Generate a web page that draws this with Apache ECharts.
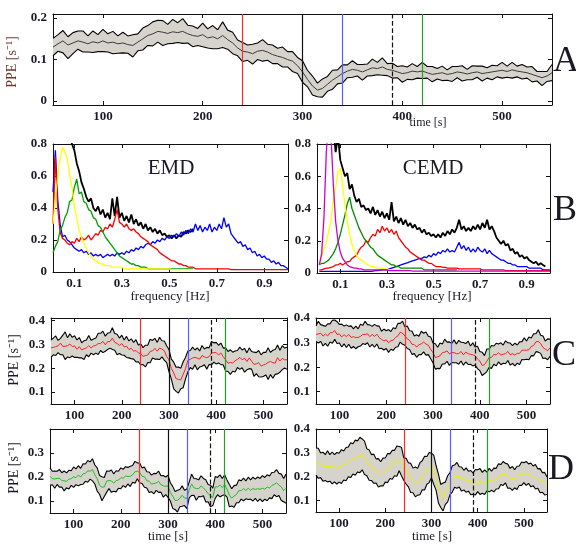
<!DOCTYPE html>
<html>
<head>
<meta charset="utf-8">
<script src="https://cdn.jsdelivr.net/npm/echarts@6/dist/echarts.min.js"></script>
<style>html,body{margin:0;background:#fff}#chart{width:576px;height:548px}</style>
</head>
<body>
<div id="chart"></div>
<script>
const time = [
  50,55,60,65,70,75,80,85,90,95,
  100,105,110,115,120,125,130,135,140,145,
  150,155,160,165,170,175,180,185,190,195,
  200,205,210,215,220,225,230,235,240,245,
  250,255,260,265,270,275,280,285,290,295,
  300,305,310,315,320,325,330,335,340,345,
  350,355,360,365,370,375,380,385,390,395,
  400,405,410,415,420,425,430,435,440,445,
  450,455,460,465,470,475,480,485,490,495,
  500,505,510,515,520,525,530,535,540,545,
  550];

const freq = [
  0.01,0.02,0.03,0.04,0.05,0.06,0.07,0.08,0.09,0.10,
  0.11,0.12,0.13,0.14,0.15,0.16,0.17,0.18,0.19,0.20,
  0.21,0.22,0.23,0.24,0.25,0.26,0.27,0.28,0.29,0.30,
  0.31,0.32,0.33,0.34,0.35,0.36,0.37,0.38,0.39,0.40,
  0.41,0.42,0.43,0.44,0.45,0.46,0.47,0.48,0.49,0.50,
  0.51,0.52,0.53,0.54,0.55,0.56,0.57,0.58,0.59,0.60,
  0.61,0.62,0.63,0.64,0.65,0.66,0.67,0.68,0.69,0.70,
  0.71,0.72,0.73,0.74,0.75,0.76,0.77,0.78,0.79,0.80,
  0.81,0.82,0.83,0.84,0.85,0.86,0.87,0.88,0.89,0.90,
  0.91,0.92,0.93,0.94,0.95,0.96,0.97,0.98,0.99,1.00];

// event markers (s)
const events = [240, 300, 340, 390, 420];
const eventColors = ['#ff2a2a', '#111111', '#5a5aff', '#111111', '#22a022'];
const eventTypes = ['solid', 'solid', 'solid', 'dashed', 'solid'];

const timeTicks = [100, 200, 300, 400, 500];
const freqTicks = [0.1, 0.3, 0.5, 0.7, 0.9];

// panel A
const aUpper = [
  .151,.160,.170,.155,.165,.169,.169,.157,.169,.160,
  .173,.162,.168,.157,.166,.157,.160,.162,.176,.182,
  .191,.195,.194,.185,.197,.189,.199,.183,.181,.175,
  .188,.174,.182,.172,.191,.171,.166,.147,.141,.135,
  .137,.140,.148,.137,.135,.127,.130,.119,.119,.105,
  .097,.074,.060,.043,.053,.059,.074,.075,.087,.087,
  .097,.088,.088,.089,.101,.093,.104,.090,.091,.083,
  .085,.082,.090,.083,.093,.083,.083,.078,.084,.075,
  .083,.083,.085,.076,.085,.084,.084,.080,.086,.085,
  .093,.084,.093,.084,.088,.082,.083,.071,.071,.071,
  .088];
const aMean = [
  .130,.138,.145,.135,.140,.145,.142,.138,.143,.140,
  .145,.140,.142,.138,.140,.136,.134,.142,.150,.158,
  .162,.168,.166,.163,.167,.165,.168,.162,.158,.156,
  .160,.152,.155,.150,.158,.148,.140,.128,.120,.118,
  .114,.120,.122,.118,.112,.108,.105,.100,.096,.085,
  .070,.052,.036,.026,.030,.040,.050,.058,.066,.072,
  .076,.074,.070,.075,.080,.078,.082,.076,.074,.070,
  .066,.068,.072,.070,.072,.068,.064,.066,.068,.064,
  .066,.070,.068,.065,.068,.070,.066,.068,.070,.072,
  .074,.071,.075,.072,.070,.068,.064,.060,.056,.060,
  .068];
const aLower = [
  .109,.120,.116,.102,.114,.125,.118,.118,.117,.119,
  .119,.118,.114,.115,.116,.115,.106,.121,.123,.134,
  .133,.142,.134,.138,.139,.141,.139,.140,.131,.134,
  .131,.128,.126,.126,.129,.125,.114,.109,.095,.098,
  .089,.100,.096,.098,.090,.090,.082,.082,.071,.066,
  .045,.034,.014,.010,.009,.023,.028,.041,.043,.056,
  .057,.060,.050,.060,.061,.063,.062,.061,.055,.056,
  .045,.052,.051,.055,.054,.055,.046,.053,.049,.050,
  .047,.056,.048,.051,.051,.057,.048,.055,.051,.058,
  .055,.057,.055,.058,.053,.055,.046,.048,.037,.047,
  .049];

// panel B, EMD
const emdBlack = [
  null,null,null,null,null,0.85,0.92,0.84,0.80,0.76,
  0.68,0.63,0.56,0.52,0.47,0.44,0.46,0.40,0.38,0.41,
  0.36,0.39,0.34,0.37,0.33,0.46,0.35,0.47,0.34,0.37,
  0.32,0.35,0.31,0.36,0.30,0.33,0.29,0.31,0.27,0.30,
  0.26,0.28,0.25,0.27,0.24,0.26,0.23,0.24,0.22,0.23,
  0.21,0.23,0.21,0.23,0.22,0.25,0.24,0.26,0.25,0.27,
  null,null,null,null,null,null,null,null,null,null,
  null,null,null,null,null,null,null,null,null,null,
  null,null,null,null,null,null,null,null,null,null,
  null,null,null,null,null,null,null,null,null,null];
const emdBlue = [
  0.50,0.76,0.45,0.30,0.22,0.23,0.20,0.19,0.17,0.15,
  0.14,0.13,0.14,0.12,0.13,0.11,0.12,0.10,0.11,0.10,
  0.11,0.09,0.10,0.11,0.10,0.11,0.10,0.12,0.11,0.12,
  0.11,0.13,0.12,0.14,0.13,0.15,0.14,0.16,0.15,0.17,
  0.18,0.17,0.19,0.18,0.20,0.19,0.21,0.20,0.22,0.21,
  0.23,0.22,0.24,0.22,0.25,0.23,0.26,0.24,0.27,0.25,
  0.30,0.26,0.29,0.25,0.28,0.26,0.30,0.25,0.28,0.26,
  0.30,0.27,0.34,0.28,0.30,0.24,0.22,0.20,0.18,0.19,
  0.16,0.17,0.14,0.15,0.12,0.13,0.10,0.11,0.09,0.10,
  0.08,0.08,0.06,0.07,0.05,0.06,0.04,0.04,0.03,0.02];
const emdRed = [
  0.30,0.72,0.40,0.25,0.21,0.20,0.18,0.17,0.19,0.18,
  0.21,0.19,0.22,0.20,0.21,0.23,0.20,0.22,0.24,0.23,
  0.26,0.25,0.28,0.27,0.30,0.28,0.33,0.39,0.31,0.30,
  0.28,0.30,0.27,0.26,0.27,0.25,0.24,0.22,0.21,0.20,
  0.19,0.17,0.16,0.15,0.14,0.12,0.11,0.10,0.09,0.08,
  0.07,0.07,0.06,0.05,0.05,0.04,0.04,0.03,0.03,0.03,
  0.02,0.02,0.02,0.02,0.02,0.02,0.02,0.02,0.02,0.02,
  0.02,0.02,0.02,0.02,0.02,0.015,0.015,0.015,0.015,0.015,
  0.015,0.015,0.015,0.015,0.015,0.015,0.015,0.015,0.015,0.015,
  0.015,0.015,0.015,0.015,0.015,0.015,0.015,0.015,0.015,0.015];
const emdGreen = [
  0.12,0.16,0.19,0.26,0.29,0.34,0.37,0.44,0.45,0.53,
  0.58,0.49,0.50,0.44,0.43,0.39,0.38,0.34,0.33,0.29,
  0.28,0.25,0.22,0.20,0.18,0.16,0.14,0.12,0.10,0.09,
  0.08,0.07,0.06,0.05,0.05,0.04,0.04,0.03,0.03,0.03,
  0.02,0.02,0.02,0.02,0.02,0.02,0.02,0.02,0.02,0.02,
  0.02,0.02,0.02,0.02,0.02,0.02,0.02,0.02,0.02,0.02,
  null,null,null,null,null,null,null,null,null,null,
  null,null,null,null,null,null,null,null,null,null,
  null,null,null,null,null,null,null,null,null,null,
  null,null,null,null,null,null,null,null,null,null];
const emdYellow = [
  0.30,0.45,0.60,0.71,0.78,0.75,0.71,0.61,0.53,0.41,
  0.34,0.26,0.22,0.18,0.15,0.12,0.10,0.08,0.07,0.06,
  0.05,0.05,0.04,0.04,0.04,0.03,0.03,0.03,0.03,0.03,
  0.02,0.02,0.02,0.02,0.02,0.02,0.02,0.02,0.02,0.02,
  0.02,0.02,0.02,0.02,0.02,0.02,0.02,0.02,0.02,0.02,
  0.015,0.015,0.015,0.015,0.015,0.015,0.015,0.015,0.015,0.015,
  null,null,null,null,null,null,null,null,null,null,
  null,null,null,null,null,null,null,null,null,null,
  null,null,null,null,null,null,null,null,null,null,
  null,null,null,null,null,null,null,null,null,null];

// panel B, CEMD
const cemdBlack = [
  null,null,null,null,null,null,0.90,0.75,0.85,0.70,
  0.65,0.60,0.62,0.52,0.55,0.48,0.44,0.46,0.41,0.42,
  0.39,0.40,0.37,0.41,0.36,0.39,0.35,0.38,0.34,0.37,
  0.33,0.44,0.32,0.35,0.31,0.34,0.30,0.33,0.29,0.31,
  0.28,0.30,0.27,0.28,0.25,0.27,0.24,0.25,0.23,0.24,
  0.22,0.24,0.22,0.25,0.23,0.26,0.24,0.27,0.25,0.28,
  0.33,0.27,0.29,0.26,0.28,0.26,0.29,0.27,0.30,0.27,
  0.31,0.28,0.33,0.27,0.29,0.26,0.22,0.20,0.18,0.20,
  0.17,0.18,0.14,0.15,0.12,0.13,0.10,0.11,0.09,0.10,
  0.08,0.07,0.06,0.07,0.05,0.06,0.05,0.04,null,null];
const cemdBlue = [
  0.01,0.01,0.01,0.01,0.01,0.01,0.01,0.01,0.01,0.01,
  0.01,0.01,0.01,0.01,0.01,0.01,0.01,0.01,0.01,0.01,
  0.01,0.01,0.01,0.012,0.015,0.015,0.018,0.02,0.02,0.02,
  0.025,0.03,0.035,0.04,0.045,0.05,0.055,0.06,0.065,0.07,
  0.075,0.08,0.085,0.09,0.09,0.10,0.095,0.11,0.10,0.12,
  0.11,0.13,0.12,0.14,0.13,0.15,0.13,0.14,0.13,0.16,
  0.19,0.15,0.17,0.14,0.16,0.13,0.15,0.13,0.16,0.14,
  0.13,0.15,0.12,0.14,0.12,0.11,0.10,0.09,0.08,0.08,
  0.07,0.06,0.06,0.05,0.05,0.04,0.04,0.04,0.04,0.04,
  0.03,0.03,0.03,0.03,0.03,0.03,0.02,0.02,0.02,0.02];
const cemdRed = [
  0.02,0.02,0.025,0.03,0.03,0.035,0.04,0.05,0.05,0.06,
  0.05,0.06,0.07,0.07,0.09,0.10,0.11,0.14,0.16,0.17,
  0.20,0.19,0.22,0.24,0.23,0.27,0.25,0.29,0.26,0.28,
  0.25,0.27,0.24,0.26,0.22,0.20,0.18,0.16,0.15,0.13,
  0.12,0.11,0.10,0.09,0.08,0.08,0.07,0.06,0.06,0.05,
  0.04,0.04,0.04,0.035,0.035,0.03,0.03,0.03,0.03,0.03,
  0.025,0.025,0.025,0.025,0.025,0.025,0.025,0.025,0.025,0.025,
  0.02,0.02,0.02,0.02,0.02,0.02,0.02,0.02,0.02,0.02,
  0.015,0.015,0.015,0.015,0.015,0.015,0.015,0.015,0.015,0.015,
  0.015,0.015,0.015,0.015,0.015,0.015,0.015,0.015,0.015,0.015];
const cemdGreen = [
  0.05,0.06,0.06,0.07,0.08,0.10,0.12,0.15,0.19,0.24,
  0.30,0.36,0.43,0.47,0.40,0.36,0.32,0.28,0.25,0.22,
  0.20,0.18,0.16,0.15,0.13,0.11,0.10,0.09,0.08,0.07,
  0.06,0.05,0.05,0.04,0.04,0.03,0.03,0.03,0.03,0.03,
  0.03,0.03,0.03,0.03,0.03,0.02,0.02,0.02,0.02,0.02,
  0.02,0.02,0.02,0.02,0.02,0.02,0.02,0.02,0.02,0.02,
  null,null,null,null,null,null,null,null,null,null,
  null,null,null,null,null,null,null,null,null,null,
  null,null,null,null,null,null,null,null,null,null,
  null,null,null,null,null,null,null,null,null,null];
const cemdYellow = [
  0.05,0.10,0.15,0.19,0.26,0.32,0.46,0.53,0.63,0.65,
  0.55,0.42,0.32,0.24,0.18,0.14,0.11,0.09,0.08,0.07,
  0.06,0.05,0.04,0.04,0.035,0.03,0.03,0.03,0.025,0.025,
  0.02,0.02,0.02,0.02,0.02,0.02,0.02,0.02,0.02,0.02,
  null,null,null,null,null,null,null,null,null,null,
  null,null,null,null,null,null,null,null,null,null,
  null,null,null,null,null,null,null,null,null,null,
  null,null,null,null,null,null,null,null,null,null,
  null,null,null,null,null,null,null,null,null,null,
  null,null,null,null,null,null,null,null,null,null];
const cemdMagenta = [
  0.05,0.12,0.35,0.75,0.95,0.85,0.55,0.32,0.20,0.13,
  0.09,0.07,0.05,0.04,0.035,0.03,0.03,0.025,0.025,0.02,
  0.02,0.02,0.02,0.02,0.02,0.02,0.02,0.02,0.02,0.02,
  0.015,0.015,0.015,0.015,0.015,0.015,0.015,0.015,0.015,0.015,
  0.012,0.012,0.012,0.012,0.012,0.012,0.012,0.012,0.012,0.012,
  0.012,0.012,0.012,0.012,0.012,0.012,0.012,0.012,0.012,0.012,
  0.012,0.012,0.012,0.012,0.012,0.012,0.012,0.012,0.012,0.012,
  0.012,0.012,0.012,0.012,0.012,0.012,0.012,0.012,0.012,0.012,
  0.012,0.012,0.012,0.012,0.012,0.012,0.012,0.012,0.012,0.012,
  0.012,0.012,0.012,0.012,0.012,0.012,0.012,0.012,0.012,0.012];

// panel C, left (red mean)
const cLUpper = [
  .318,.326,.335,.316,.325,.338,.352,.327,.344,.329,
  .336,.318,.328,.306,.315,.318,.337,.317,.322,.326,
  .346,.346,.355,.334,.347,.348,.369,.345,.342,.326,
  .338,.318,.333,.314,.323,.308,.319,.297,.302,.286,
  .296,.296,.321,.316,.325,.308,.329,.315,.314,.294,
  .278,.238,.225,.204,.205,.200,.227,.245,.272,.274,
  .288,.276,.285,.272,.295,.280,.287,.285,.312,.306,
  .308,.296,.305,.284,.285,.270,.277,.267,.272,.274,
  .288,.276,.283,.264,.285,.270,.267,.265,.274,.256,
  .266,.266,.285,.266,.275,.278,.297,.275,.294,.284,
  .288];
const cLMean = [
  .285,.287,.290,.294,.305,.291,.292,.294,.301,.290,
  .293,.279,.290,.276,.281,.285,.294,.285,.293,.295,
  .303,.303,.312,.298,.311,.311,.326,.308,.303,.295,
  .303,.289,.292,.278,.283,.271,.274,.264,.261,.249,
  .253,.255,.270,.272,.283,.271,.284,.280,.273,.249,
  .235,.199,.180,.156,.153,.151,.174,.198,.233,.237,
  .243,.245,.242,.238,.253,.247,.244,.248,.263,.265,
  .265,.255,.264,.248,.235,.221,.224,.222,.231,.237,
  .245,.235,.242,.228,.243,.229,.216,.218,.223,.209,
  .213,.217,.224,.228,.223,.221,.244,.230,.241,.235,
  .235];
const cLLower = [
  .245,.256,.253,.265,.256,.256,.236,.247,.244,.251,
  .245,.246,.243,.243,.236,.256,.248,.263,.256,.263,
  .257,.274,.265,.271,.278,.284,.278,.275,.256,.261,
  .255,.254,.245,.243,.240,.238,.226,.227,.214,.215,
  .205,.224,.223,.243,.238,.238,.236,.247,.234,.223,
  .185,.154,.113,.103,.096,.114,.118,.155,.184,.203,
  .195,.214,.193,.205,.208,.214,.196,.215,.214,.225,
  .217,.222,.215,.213,.188,.186,.174,.187,.184,.203,
  .195,.202,.183,.193,.198,.196,.166,.177,.164,.163,
  .165,.172,.153,.173,.158,.174,.176,.183,.194,.201,
  .195];

// panel C, right (red mean)
const cRUpper = [
  .368,.387,.373,.370,.366,.376,.376,.391,.392,.385,
  .374,.375,.367,.372,.366,.368,.356,.367,.356,.375,
  .370,.387,.373,.372,.366,.374,.368,.367,.346,.355,
  .348,.353,.345,.360,.356,.378,.378,.387,.364,.367,
  .348,.347,.327,.332,.326,.346,.338,.343,.326,.323,
  .298,.295,.281,.298,.294,.314,.302,.303,.296,.311,
  .294,.309,.301,.300,.296,.306,.286,.299,.282,.285,
  .264,.261,.247,.274,.274,.288,.286,.297,.294,.299,
  .290,.307,.299,.298,.288,.298,.290,.303,.304,.319,
  .306,.323,.319,.336,.336,.352,.330,.327,.306,.315,
  .314];
const cRMean = [
  .333,.335,.338,.326,.335,.327,.340,.340,.349,.333,
  .335,.323,.332,.324,.333,.321,.324,.320,.321,.325,
  .333,.333,.336,.324,.333,.325,.334,.320,.313,.307,
  .311,.299,.308,.310,.321,.327,.342,.338,.327,.315,
  .309,.293,.292,.282,.291,.295,.302,.294,.289,.273,
  .259,.239,.242,.246,.259,.261,.266,.254,.259,.259,
  .255,.255,.264,.250,.261,.255,.252,.250,.247,.233,
  .225,.207,.210,.224,.239,.239,.252,.250,.259,.249,
  .253,.255,.264,.250,.255,.249,.256,.256,.269,.269,
  .269,.271,.284,.288,.303,.305,.296,.280,.273,.267,
  .279];
const cRLower = [
  .304,.298,.305,.286,.297,.285,.302,.297,.313,.296,
  .298,.282,.295,.280,.293,.277,.284,.275,.283,.286,
  .296,.292,.299,.282,.293,.281,.294,.275,.277,.270,
  .276,.260,.273,.268,.281,.283,.302,.293,.289,.276,
  .272,.252,.255,.240,.251,.251,.262,.249,.251,.234,
  .218,.192,.195,.194,.213,.213,.224,.207,.219,.218,
  .218,.212,.225,.208,.221,.211,.212,.205,.209,.194,
  .186,.166,.173,.182,.199,.195,.212,.205,.221,.210,
  .216,.214,.227,.208,.215,.205,.216,.211,.231,.230,
  .232,.230,.247,.246,.263,.261,.256,.235,.237,.230,
  .244];

// panel D, left (green mean)
const dLUpper = [
  .238,.224,.225,.224,.231,.218,.225,.217,.228,.226,
  .242,.234,.247,.236,.255,.254,.269,.263,.276,.250,
  .238,.206,.201,.198,.225,.224,.229,.213,.226,.224,
  .238,.232,.243,.240,.245,.248,.265,.259,.258,.238,
  .242,.222,.221,.208,.215,.214,.225,.205,.206,.200,
  .208,.176,.161,.140,.145,.148,.163,.145,.150,.180,
  .212,.194,.193,.188,.205,.194,.189,.169,.166,.154,
  .202,.198,.209,.194,.209,.188,.169,.151,.164,.166,
  .188,.184,.195,.184,.199,.188,.199,.191,.200,.194,
  .206,.198,.209,.204,.219,.220,.231,.215,.212,.194,
  .212];
const dLMean = [
  .203,.193,.192,.194,.195,.185,.184,.182,.191,.193,
  .201,.197,.208,.200,.213,.215,.226,.224,.231,.209,
  .193,.165,.158,.158,.183,.185,.184,.174,.185,.187,
  .197,.195,.204,.202,.203,.209,.222,.224,.219,.203,
  .201,.185,.182,.170,.173,.175,.182,.168,.163,.161,
  .163,.135,.120,.102,.103,.111,.124,.112,.111,.147,
  .171,.155,.152,.151,.163,.155,.144,.130,.123,.115,
  .159,.159,.166,.156,.169,.149,.124,.112,.121,.127,
  .143,.143,.152,.144,.153,.145,.152,.148,.151,.149,
  .153,.149,.158,.154,.165,.169,.176,.166,.159,.143,
  .153];
const dLLower = [
  .165,.168,.153,.169,.158,.158,.142,.155,.150,.165,
  .157,.168,.163,.169,.170,.182,.178,.191,.184,.171,
  .141,.128,.101,.119,.136,.152,.136,.141,.138,.153,
  .151,.164,.157,.171,.160,.178,.174,.193,.176,.173,
  .157,.154,.135,.139,.130,.144,.136,.137,.116,.127,
  .115,.100,.069,.065,.054,.076,.078,.081,.068,.113,
  .123,.124,.103,.119,.118,.122,.096,.097,.076,.081,
  .111,.126,.117,.123,.126,.116,.076,.079,.074,.093,
  .093,.108,.101,.109,.106,.108,.100,.111,.098,.109,
  .097,.108,.101,.113,.110,.126,.118,.123,.102,.097,
  .091];

// panel D, right (yellow mean)
const dRUpper = [
  .320,.319,.299,.302,.292,.308,.292,.303,.292,.301,
  .298,.313,.307,.322,.324,.342,.338,.353,.350,.365,
  .358,.349,.317,.312,.292,.294,.274,.275,.262,.277,
  .278,.297,.295,.310,.310,.328,.326,.323,.278,.277,
  .258,.255,.235,.240,.234,.258,.266,.285,.284,.301,
  .298,.289,.245,.210,.166,.172,.176,.203,.216,.245,
  .248,.259,.241,.240,.226,.236,.222,.225,.214,.229,
  .228,.233,.217,.228,.218,.234,.222,.235,.234,.253,
  .250,.263,.255,.252,.234,.242,.228,.243,.244,.261,
  .258,.263,.253,.256,.244,.250,.232,.233,.216,.217,
  .198];
const dRMean = [
  .265,.253,.252,.242,.243,.243,.242,.240,.241,.233,
  .245,.243,.252,.252,.265,.265,.274,.276,.283,.283,
  .295,.277,.264,.246,.243,.231,.226,.214,.211,.211,
  .223,.227,.242,.246,.261,.261,.274,.260,.233,.219,
  .213,.193,.184,.172,.173,.179,.204,.212,.231,.235,
  .245,.223,.192,.146,.125,.111,.134,.148,.171,.183,
  .201,.199,.200,.188,.191,.183,.184,.174,.171,.171,
  .183,.173,.172,.172,.183,.183,.186,.184,.191,.195,
  .209,.207,.214,.196,.195,.189,.194,.194,.207,.207,
  .215,.205,.212,.202,.203,.195,.194,.184,.181,.169,
  .165];
const dRLower = [
  .206,.192,.195,.180,.183,.177,.180,.169,.177,.168,
  .176,.170,.185,.182,.199,.195,.210,.205,.219,.216,
  .228,.208,.203,.184,.183,.171,.172,.155,.161,.160,
  .176,.174,.191,.188,.203,.201,.224,.203,.183,.168,
  .156,.132,.131,.114,.121,.123,.144,.143,.167,.174,
  .194,.166,.141,.088,.069,.055,.082,.093,.123,.134,
  .154,.150,.155,.138,.143,.133,.138,.123,.125,.122,
  .136,.124,.129,.124,.139,.135,.142,.135,.147,.148,
  .166,.162,.173,.150,.151,.141,.152,.145,.163,.162,
  .174,.162,.171,.156,.161,.147,.150,.131,.133,.122,
  .124];

const FONT = '"Liberation Serif", "Times New Roman", serif';
const INK = '#1a1a26';
const BAND = '#d6d3cc';

const grids = [
  { left: 53, top: 14, width: 499, height: 91 },    // A
  { left: 53, top: 144, width: 235, height: 128 },  // B EMD
  { left: 317, top: 144, width: 233, height: 129 }, // B CEMD
  { left: 51, top: 318, width: 236, height: 86 },   // C left
  { left: 316, top: 318, width: 234, height: 86 },  // C right
  { left: 50, top: 429, width: 236, height: 84 },   // D left
  { left: 316, top: 429, width: 231, height: 83 }   // D right
];

const xAxes = [];
const yAxes = [];
const series = [];

function boxAxes(g, xr, yr) {
  const line = { show: true, onZero: false, lineStyle: { color: '#111', width: 1 } };
  const tick = (vals) => ({ show: true, inside: true, length: 4, customValues: vals, lineStyle: { color: '#111' } });
  const lab = (vals, m) => ({ show: true, customValues: vals, margin: m, color: INK, fontFamily: FONT, fontSize: 13, fontWeight: 'bold' });
  const hidden = { show: false };
  xAxes.push({ type: 'value', gridIndex: g, min: xr.min, max: xr.max, position: 'bottom',
    axisLine: line, axisTick: tick(xr.ticks), axisLabel: lab(xr.ticks, 5), splitLine: hidden });
  xAxes.push({ type: 'value', gridIndex: g, min: xr.min, max: xr.max, position: 'top',
    axisLine: line, axisTick: tick(xr.ticks), axisLabel: hidden, splitLine: hidden });
  yAxes.push({ type: 'value', gridIndex: g, min: yr.min, max: yr.max, position: 'left',
    axisLine: line, axisTick: tick(yr.ticks), axisLabel: lab(yr.ticks, 6), splitLine: hidden });
  yAxes.push({ type: 'value', gridIndex: g, min: yr.min, max: yr.max, position: 'right',
    axisLine: line, axisTick: tick(yr.ticks), axisLabel: hidden, splitLine: hidden });
}

function pairs(xs, ys) {
  const out = [];
  xs.forEach((x, i) => { if (ys[i] != null) out.push([x, ys[i]]); });
  return out;
}

// grey confidence band + black envelopes + coloured mean + event markers
function bandPanel(g, upper, mean, lower, meanColor) {
  const idx = { xAxisIndex: 2 * g, yAxisIndex: 2 * g };
  const base = { type: 'line', symbol: 'none', silent: true, ...idx };
  series.push({
    type: 'custom', silent: true, ...idx, data: [[time[0], upper[0]]],
    renderItem: (params, api) => {
      const pts = [];
      for (let i = 0; i < time.length; i++) pts.push(api.coord([time[i], upper[i]]));
      for (let i = time.length - 1; i >= 0; i--) pts.push(api.coord([time[i], lower[i]]));
      return { type: 'polygon', shape: { points: pts }, style: { fill: BAND } };
    }
  });
  series.push({ ...base, data: pairs(time, lower), lineStyle: { color: '#000', width: 1.1 } });
  series.push({ ...base, data: pairs(time, upper), lineStyle: { color: '#000', width: 1.1 } });
  series.push({ ...base, data: pairs(time, mean), lineStyle: { color: meanColor, width: 1 },
    markLine: {
      silent: true, symbol: ['none', 'none'], label: { show: false }, animation: false,
      data: events.map((t, i) => ({ xAxis: t, lineStyle: { color: eventColors[i], type: eventTypes[i], width: 1.2 } }))
    } });
}

function spectrum(g, vals, color, w) {
  series.push({ type: 'line', symbol: 'none', silent: true, xAxisIndex: 2 * g, yAxisIndex: 2 * g,
    data: pairs(freq, vals), lineStyle: { color: color, width: w || 1.3 } });
}

const xT = { min: 50, max: 550, ticks: timeTicks };

boxAxes(0, xT, { min: -0.01, max: 0.21, ticks: [0, 0.1, 0.2] });
boxAxes(1, { min: 0.01, max: 1, ticks: freqTicks }, { min: 0, max: 0.8, ticks: [0, 0.2, 0.4, 0.6, 0.8] });
boxAxes(2, { min: 0, max: 1, ticks: freqTicks }, { min: 0, max: 0.8, ticks: [0, 0.2, 0.4, 0.6, 0.8] });
boxAxes(3, xT, { min: 0.05, max: 0.41, ticks: [0.1, 0.2, 0.3, 0.4] });
boxAxes(4, xT, { min: 0.05, max: 0.4, ticks: [0.1, 0.2, 0.3, 0.4] });
boxAxes(5, xT, { min: 0.05, max: 0.4, ticks: [0.1, 0.2, 0.3] });
boxAxes(6, xT, { min: 0.05, max: 0.4, ticks: [0.1, 0.2, 0.3, 0.4] });

bandPanel(0, aUpper, aMean, aLower, '#3a3a3a');

spectrum(1, emdBlack, '#000000', 1.8);
spectrum(1, emdBlue, '#0000ff');
spectrum(1, emdRed, '#ff0000');
spectrum(1, emdGreen, '#00a000');
spectrum(1, emdYellow, '#ffff00');

spectrum(2, cemdBlack, '#000000', 1.8);
spectrum(2, cemdBlue, '#0000ff');
spectrum(2, cemdRed, '#ff0000');
spectrum(2, cemdGreen, '#008a00');
spectrum(2, cemdYellow, '#ffff00');
spectrum(2, cemdMagenta, '#cc00cc');

bandPanel(3, cLUpper, cLMean, cLLower, '#ff2020');
bandPanel(4, cRUpper, cRMean, cRLower, '#ff2020');
bandPanel(5, dLUpper, dLMean, dLLower, '#20c020');
bandPanel(6, dRUpper, dRMean, dRLower, '#f0f000');

function txt(text, x, y, size, extra) {
  return { type: 'text', x: x, y: y, silent: true, ...(extra || {}),
    style: { text: text, fill: INK, font: size + 'px ' + FONT, align: 'center', verticalAlign: 'middle' } };
}
function vtxt(text, x, y, fill) {
  const t = txt(text, x, y, 14, { rotation: Math.PI / 2 });
  if (fill) t.style.fill = fill;
  return t;
}

const graphic = [
  txt('A', 566, 62, 36),
  txt('B', 565, 211, 36),
  txt('C', 564, 356, 36),
  txt('D', 561, 470, 36),
  txt('EMD', 171, 168, 21),
  txt('CEMD', 433, 168, 21),
  txt('frequency [Hz]', 170, 297, 13),
  txt('frequency [Hz]', 432, 297, 13),
  txt('time [s]', 428, 123, 12),
  txt('time [s]', 168, 537, 13),
  txt('time [s]', 432, 537, 13),
  vtxt('PPE [s\u207B\u00B9]', 12, 62, '#6b3a2e'),
  vtxt('PPE [s\u207B\u00B9]', 14, 360),
  vtxt('PPE [s\u207B\u00B9]', 14, 468)
];

const chart = echarts.init(document.getElementById('chart'), null, { renderer: 'canvas' });
chart.setOption({
  animation: false,
  backgroundColor: '#ffffff',
  grid: grids.map(g => ({ ...g, containLabel: false })),
  xAxis: xAxes,
  yAxis: yAxes,
  series: series,
  graphic: graphic
});
</script>
</body>
</html>
